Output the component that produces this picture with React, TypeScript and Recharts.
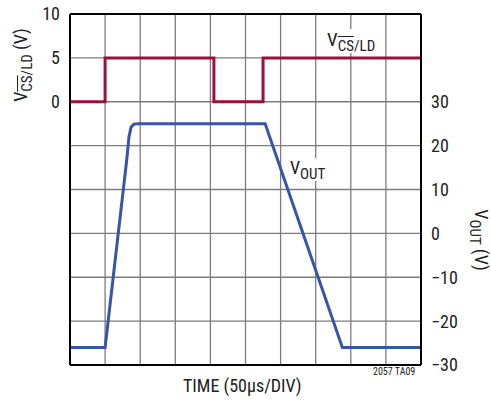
import React from 'react';
import {
  LineChart,
  Line,
  XAxis,
  YAxis,
  CartesianGrid,
} from 'recharts';

// time in divisions (50µs/DIV)
const timeTicks = [0, 1, 2, 3, 4, 5, 6, 7, 8, 9, 10];

// V(CS/LD) logic input, left axis
const csTime = [0, 1, 4.1, 5.5, 10];
const csVolts = [0, 5, 0, 5, 5];
const leftTicks = [-30, -25, -20, -15, -10, -5, 0, 5, 10];

// VOUT, right axis
const outTime = [0, 1, 1.62, 1.68, 1.74, 1.82, 1.95, 5.56, 7.76, 10];
const outVolts = [-26, -26, 17, 22, 24.2, 24.9, 25, 25, -26, -26];
const rightTicks = [-30, -20, -10, 0, 10, 20, 30];

const csData = csTime.map((t, i) => ({ t, v: csVolts[i] }));
const outData = outTime.map((t, i) => ({ t, v: outVolts[i] }));

const FONT = "'Liberation Sans Narrow', 'Roboto Condensed', Roboto, sans-serif";
const RED = '#9e0f3d';
const BLUE = '#3a54a8';

const fmtMinus = (v: number) => (v < 0 ? `\u2212${-v}` : `${v}`);

const Sub = ({ children }: { children: React.ReactNode }) => (
  <span style={{ fontSize: 15, position: 'relative', top: 5 }}>{children}</span>
);
const Over = ({ children }: { children: React.ReactNode }) => (
  <span style={{ textDecoration: 'overline' }}>{children}</span>
);

export default function App() {
  const text: React.CSSProperties = {
    position: 'absolute',
    fontFamily: FONT,
    color: '#222',
    whiteSpace: 'nowrap',
    lineHeight: 1,
  };
  const boxed: React.CSSProperties = { ...text, background: '#fff', padding: '1px 1px 4px 1px' };
  return (
    <div style={{ position: 'absolute', left: 0, top: 0, width: 491, height: 400, background: '#fff' }}>
      <LineChart
        width={491}
        height={400}
        margin={{ top: 14, right: 10, bottom: 0, left: 10 }}
      >
        <CartesianGrid
          yAxisId="left"
          stroke="#7d7d7d"
          strokeWidth={1.3}
        />
        <XAxis
          dataKey="t"
          type="number"
          domain={[0, 10]}
          ticks={timeTicks}
          tickFormatter={() => ''}
          tickLine={false}
          axisLine={{ stroke: '#000', strokeWidth: 2 }}
          height={35}
          allowDataOverflow
        />
        <YAxis
          yAxisId="left"
          type="number"
          domain={[-30, 10]}
          ticks={leftTicks}
          tickFormatter={(v: number) => (v >= 0 ? `${v}` : '')}
          tick={{ fill: '#222', fontSize: 18, fontFamily: FONT }}
          tickLine={false}
          tickMargin={4}
          axisLine={{ stroke: '#000', strokeWidth: 2 }}
          width={60}
        />
        <YAxis
          yAxisId="right"
          orientation="right"
          type="number"
          domain={[-30, 50]}
          ticks={rightTicks}
          tickFormatter={fmtMinus}
          tick={{ fill: '#222', fontSize: 18, fontFamily: FONT, textAnchor: 'start' }}
          tickLine={false}
          tickMargin={4}
          axisLine={{ stroke: '#000', strokeWidth: 2 }}
          width={60}
        />
        <Line
          yAxisId="left"
          data={csData}
          dataKey="v"
          type="stepAfter"
          stroke={RED}
          strokeWidth={3}
          dot={false}
          isAnimationActive={false}
        />
        <Line
          yAxisId="right"
          data={outData}
          dataKey="v"
          type="linear"
          stroke={BLUE}
          strokeWidth={3}
          dot={false}
          isAnimationActive={false}
        />
      </LineChart>
      {/* top frame line */}
      <div style={{ position: 'absolute', left: 70, top: 13, width: 351, height: 2, background: '#000' }} />

      <div style={{ ...boxed, left: 326, top: 29, fontSize: 19 }}>
        V<Sub><Over>CS</Over>/LD</Sub>
      </div>
      <div style={{ ...boxed, left: 289, top: 158, fontSize: 18 }}>
        V<Sub>OUT</Sub>
      </div>
      <div
        style={{
          ...text,
          left: 21,
          top: 65,
          fontSize: 18,
          transform: 'translate(-50%, -50%) rotate(-90deg)',
        }}
      >
        V<Sub><Over>CS</Over>/LD</Sub> (V)
      </div>
      <div
        style={{
          ...text,
          left: 481,
          top: 240,
          fontSize: 18,
          transform: 'translate(-50%, -50%) rotate(90deg)',
        }}
      >
        V<Sub>OUT</Sub> (V)
      </div>
      <div style={{ ...text, left: 183, top: 377, fontSize: 18 }}>TIME (50µs/DIV)</div>
      <div style={{ ...text, left: 373, top: 367, fontSize: 10 }}>2057 TA09</div>
    </div>
  );
}
